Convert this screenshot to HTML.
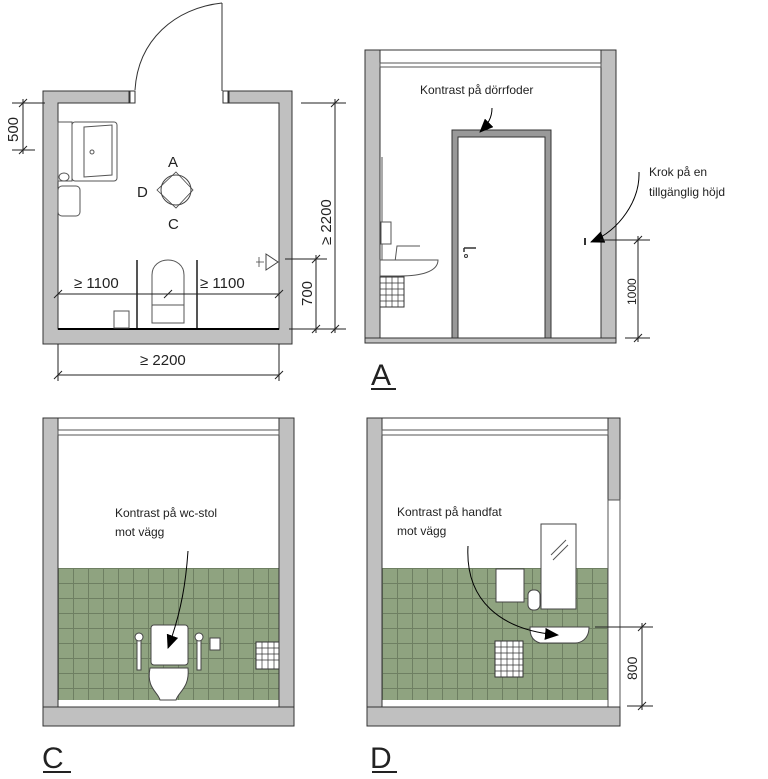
<!DOCTYPE html>
<html><head><meta charset="utf-8"><style>
html,body{margin:0;padding:0;background:#fff;}
svg{display:block;}
text{font-family:"Liberation Sans",sans-serif;fill:#222;}
</style></head><body>
<svg width="768" height="779" viewBox="0 0 768 779" xmlns="http://www.w3.org/2000/svg">
<defs>
<pattern id="tile" x="58" y="568" width="15" height="15" patternUnits="userSpaceOnUse">
<rect width="15" height="15" fill="#8fa380"/>
<path d="M0 0.5H15M0.5 0V15" stroke="#6e7f62" stroke-width="1"/>
</pattern>
<pattern id="tile2" x="382" y="568" width="15" height="15" patternUnits="userSpaceOnUse">
<rect width="15" height="15" fill="#8fa380"/>
<path d="M0 0.5H15M0.5 0V15" stroke="#6e7f62" stroke-width="1"/>
</pattern>
<marker id="ah" markerUnits="userSpaceOnUse" markerWidth="14" markerHeight="12" refX="13" refY="6" orient="auto"><path d="M0 0L14 6L0 12z" fill="#000"/></marker>
</defs>

<!-- PLAN -->
<path d="M43 91H129V103H58V329H279V103H229V91H292V344H43Z" fill="#c0c0c0" stroke="#333" stroke-width="1"/>
<line x1="58" y1="329" x2="279" y2="329" stroke="#000" stroke-width="2"/>
<rect x="130" y="91" width="5" height="12" fill="#fff" stroke="#333"/>
<rect x="223" y="91" width="5" height="12" fill="#fff" stroke="#333"/>
<line x1="222" y1="3" x2="222" y2="91" stroke="#333"/>
<path d="M135 90 C138 40 175 8 222 3" fill="none" stroke="#333"/>
<rect x="58" y="122" width="14" height="59" fill="none" stroke="#555"/>
<rect x="72" y="122" width="45" height="59" rx="3" fill="#fff" stroke="#555"/>
<path d="M84 127L112 125L112 175L84 177Z" fill="none" stroke="#555"/>
<circle cx="92" cy="152" r="2" fill="none" stroke="#555"/>
<rect x="58" y="186" width="22" height="30" rx="4" fill="#fff" stroke="#555"/>
<ellipse cx="64" cy="177" rx="5" ry="4" fill="none" stroke="#555"/>
<circle cx="176" cy="190" r="15" fill="none" stroke="#444"/>
<path d="M176 172L193 190L176 208L157 190Z" fill="none" stroke="#444" stroke-width="0.8"/>
<text x="168" y="167" font-size="15">A</text>
<text x="137" y="197" font-size="15">D</text>
<text x="168" y="229" font-size="15">C</text>
<line x1="137" y1="260" x2="137" y2="328" stroke="#555" stroke-width="2"/>
<line x1="197" y1="260" x2="197" y2="328" stroke="#555" stroke-width="2"/>
<path d="M152 275 C152 255 184 255 184 275 L184 323 L152 323Z" fill="#fff" stroke="#555"/>
<line x1="152" y1="305" x2="184" y2="305" stroke="#555"/>
<rect x="114" y="311" width="15" height="17" fill="#fff" stroke="#555"/>
<line x1="58" y1="294" x2="279" y2="294" stroke="#222"/>
<path d="M54 298L62 290M275 298L283 290M164 298L172 290" stroke="#222"/>
<text x="74" y="288" font-size="15">≥ 1100</text>
<text x="200" y="288" font-size="15">≥ 1100</text>
<path d="M266 254L278 262L266 270Z" fill="#fff" stroke="#444"/>
<path d="M256 262H264M259 257V267" stroke="#444" stroke-width="0.8"/>
<line x1="58" y1="344" x2="58" y2="381" stroke="#222"/>
<line x1="279" y1="344" x2="279" y2="381" stroke="#222"/>
<line x1="58" y1="375" x2="279" y2="375" stroke="#222"/>
<path d="M54 379L62 371M275 379L283 371" stroke="#222"/>
<text x="140" y="365" font-size="15">≥ 2200</text>
<line x1="301" y1="103" x2="346" y2="103" stroke="#222"/>
<line x1="289" y1="329" x2="346" y2="329" stroke="#222"/>
<line x1="335" y1="99" x2="335" y2="333" stroke="#222"/>
<path d="M331 107L339 99M331 333L339 325" stroke="#222"/>
<text transform="translate(331,245) rotate(-90)" font-size="15">≥ 2200</text>
<line x1="285" y1="259" x2="327" y2="259" stroke="#222"/>
<line x1="316" y1="255" x2="316" y2="333" stroke="#222"/>
<path d="M312 263L320 255M312 333L320 325" stroke="#222"/>
<text transform="translate(312,306) rotate(-90)" font-size="15">700</text>
<line x1="12" y1="103" x2="45" y2="103" stroke="#222"/>
<line x1="12" y1="150" x2="35" y2="150" stroke="#222"/>
<line x1="23" y1="99" x2="23" y2="154" stroke="#222"/>
<path d="M19 107L27 99M19 154L27 146" stroke="#222"/>
<text transform="translate(18,142) rotate(-90)" font-size="15">500</text>

<!-- ELEVATION A -->
<rect x="365" y="50" width="251" height="293" fill="#fff" stroke="#333"/>
<rect x="365" y="50" width="15" height="288" fill="#c0c0c0" stroke="#333"/>
<rect x="601" y="50" width="15" height="288" fill="#c0c0c0" stroke="#333"/>
<rect x="365" y="338" width="251" height="5" fill="#c0c0c0" stroke="#333"/>
<rect x="380" y="63" width="221" height="4" fill="#fff" stroke="#555"/>
<rect x="452" y="130" width="99" height="208" fill="#999" stroke="#333"/>
<rect x="458" y="137" width="87" height="201" fill="#fff" stroke="#333"/>
<path d="M464 248H476M464 248V252" stroke="#333" stroke-width="1.5"/>
<circle cx="466" cy="256" r="1.5" fill="none" stroke="#333"/>
<text x="420" y="94" font-size="12">Kontrast på dörrfoder</text>
<path d="M492 108 C492 118 488 124 480 132" fill="none" stroke="#000" marker-end="url(#ah)"/>
<text x="649" y="176" font-size="12">Krok på en</text>
<text x="649" y="196" font-size="12">tillgänglig höjd</text>
<path d="M639 172 C640 200 620 230 591 242" fill="none" stroke="#000" marker-end="url(#ah)"/>
<rect x="584" y="238" width="2" height="7" fill="#333"/>
<line x1="600" y1="240" x2="650" y2="240" stroke="#222"/>
<line x1="625" y1="338" x2="650" y2="338" stroke="#222"/>
<line x1="638" y1="236" x2="638" y2="342" stroke="#222"/>
<path d="M634 244L642 236M634 342L642 334" stroke="#222"/>
<text transform="translate(636,305) rotate(-90)" font-size="12">1000</text>
<line x1="382" y1="157" x2="382" y2="300" stroke="#555"/>
<rect x="381" y="222" width="10" height="22" fill="#fff" stroke="#555"/>
<path d="M395 262L397 246L420 246" fill="none" stroke="#555"/>
<path d="M380 260H438C438 272 420 276 400 276H380Z" fill="#fff" stroke="#555"/>
<rect x="380" y="277" width="24" height="30" fill="#fff" stroke="#333"/>
<path d="M380 283H404M380 289H404M380 295H404M380 301H404M386 277V307M392 277V307M398 277V307" stroke="#333" stroke-width="0.7"/>
<text x="371" y="385" font-size="30">A</text>
<line x1="371" y1="389" x2="396" y2="389" stroke="#222" stroke-width="2"/>

<!-- ELEVATION C -->
<rect x="43" y="418" width="251" height="308" fill="#fff" stroke="#333"/>
<rect x="58" y="568" width="221" height="132" fill="url(#tile)"/>
<rect x="43" y="418" width="15" height="289" fill="#c0c0c0" stroke="#333"/>
<rect x="279" y="418" width="15" height="289" fill="#c0c0c0" stroke="#333"/>
<rect x="43" y="707" width="251" height="19" fill="#c0c0c0" stroke="#333"/>
<rect x="58" y="430" width="221" height="5" fill="#fff" stroke="#555"/>
<text x="115" y="517" font-size="12">Kontrast på wc-stol</text>
<text x="115" y="536" font-size="12">mot vägg</text>
<rect x="151" y="625" width="37" height="40" rx="3" fill="#fff" stroke="#444"/>
<path d="M150 668 H188 C190 688 178 692 176 700 H160 C158 692 146 688 150 668Z" fill="#fff" stroke="#444"/>
<rect x="137" y="640" width="4" height="30" fill="#fff" stroke="#444"/>
<circle cx="139" cy="637" r="4" fill="#fff" stroke="#444"/>
<rect x="197" y="640" width="4" height="30" fill="#fff" stroke="#444"/>
<circle cx="199" cy="637" r="4" fill="#fff" stroke="#444"/>
<rect x="210" y="638" width="10" height="12" fill="#fff" stroke="#444"/>
<rect x="256" y="642" width="23" height="27" fill="#fff" stroke="#333"/>
<path d="M256 648H279M256 654H279M256 660H279M262 642V669M268 642V669M274 642V669" stroke="#333" stroke-width="0.7"/>
<path d="M188 551 C186 580 182 610 168 648" fill="none" stroke="#000" marker-end="url(#ah)"/>
<text x="42" y="768" font-size="30">C</text>
<line x1="43" y1="772" x2="71" y2="772" stroke="#222" stroke-width="2"/>

<!-- ELEVATION D -->
<rect x="367" y="418" width="253" height="308" fill="#fff" stroke="#333"/>
<rect x="382" y="568" width="226" height="132" fill="url(#tile2)"/>
<rect x="367" y="418" width="15" height="289" fill="#c0c0c0" stroke="#333"/>
<rect x="608" y="418" width="12" height="82" fill="#c0c0c0" stroke="#333"/>
<rect x="608" y="500" width="12" height="207" fill="#fff" stroke="#555"/>
<rect x="367" y="707" width="253" height="19" fill="#c0c0c0" stroke="#333"/>
<rect x="382" y="430" width="226" height="5" fill="#fff" stroke="#555"/>
<text x="397" y="516" font-size="12">Kontrast på handfat</text>
<text x="397" y="535" font-size="12">mot vägg</text>
<rect x="541" y="524" width="35" height="85" fill="#fff" stroke="#444"/>
<path d="M551 555L566 540M553 560L568 545" stroke="#555"/>
<rect x="496" y="569" width="28" height="33" fill="#fff" stroke="#444"/>
<rect x="528" y="590" width="12" height="20" rx="5" fill="#fff" stroke="#444"/>
<path d="M530 627H589C589 640 580 643 575 643H540C530 640 530 632 530 627Z" fill="#fff" stroke="#444"/>
<rect x="495" y="641" width="28" height="36" fill="#fff" stroke="#333"/>
<path d="M495 647H523M495 653H523M495 659H523M495 665H523M495 671H523M501 641V677M507 641V677M513 641V677M519 641V677" stroke="#333" stroke-width="0.7"/>
<path d="M468 546 C465 600 500 630 558 635" fill="none" stroke="#000" marker-end="url(#ah)"/>
<line x1="595" y1="627" x2="653" y2="627" stroke="#222"/>
<line x1="627" y1="706" x2="653" y2="706" stroke="#222"/>
<line x1="642" y1="623" x2="642" y2="710" stroke="#222"/>
<path d="M638 631L646 623M638 710L646 702" stroke="#222"/>
<text transform="translate(637,680) rotate(-90)" font-size="14">800</text>
<text x="370" y="768" font-size="30">D</text>
<line x1="372" y1="772" x2="397" y2="772" stroke="#222" stroke-width="2"/>
</svg>
</body></html>
